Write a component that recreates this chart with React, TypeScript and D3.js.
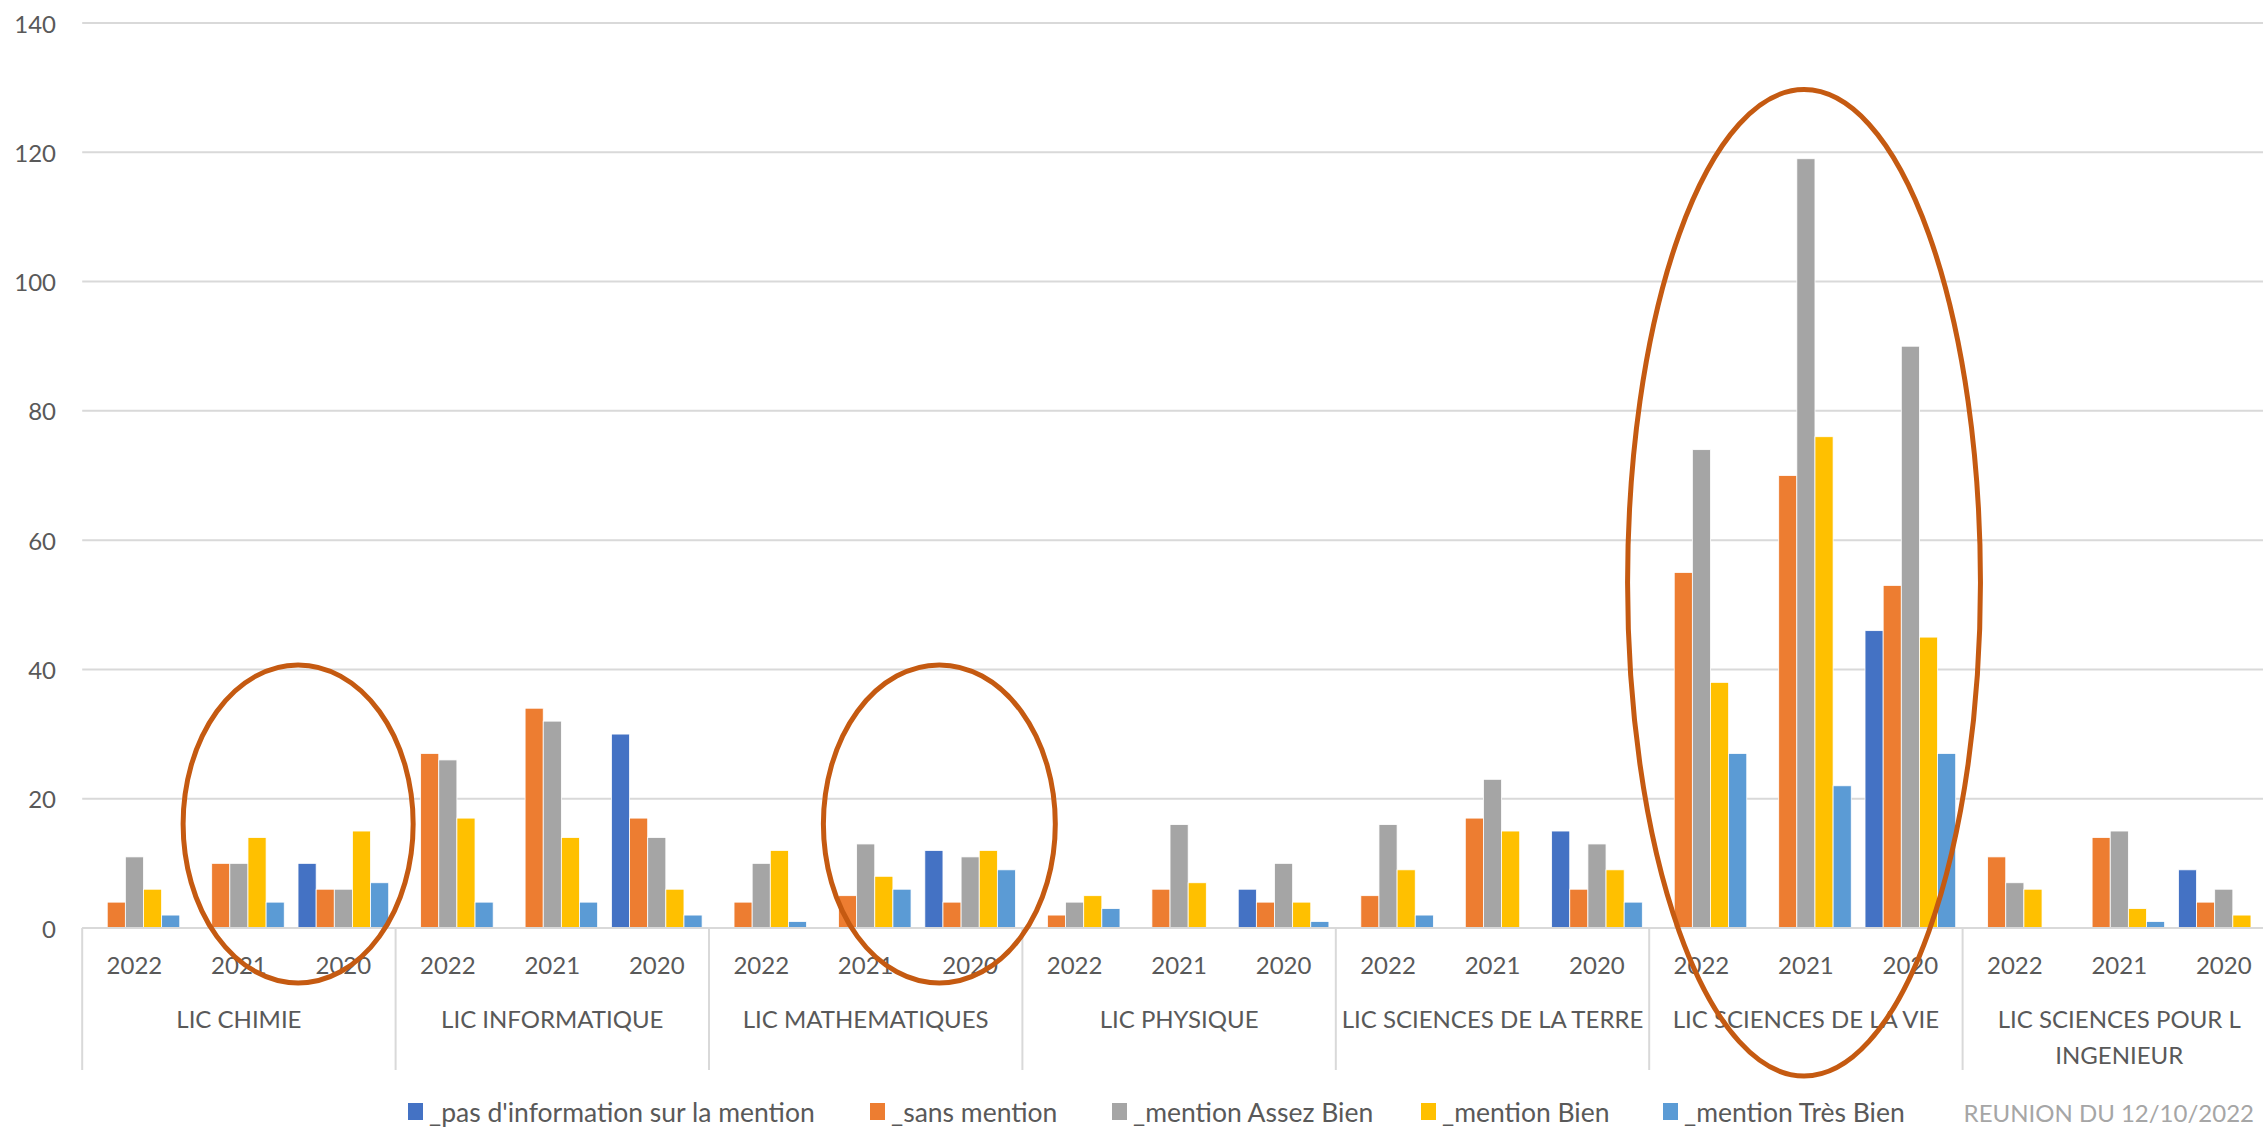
import React from "react";
import * as d3 from "d3";

const categories = [
  "LIC CHIMIE",
  "LIC INFORMATIQUE",
  "LIC MATHEMATIQUES",
  "LIC PHYSIQUE",
  "LIC SCIENCES DE LA TERRE",
  "LIC SCIENCES DE LA VIE",
  "LIC SCIENCES POUR L INGENIEUR",
];
const categoryLines = [
  ["LIC CHIMIE"],
  ["LIC INFORMATIQUE"],
  ["LIC MATHEMATIQUES"],
  ["LIC PHYSIQUE"],
  ["LIC SCIENCES DE LA TERRE"],
  ["LIC SCIENCES DE LA VIE"],
  ["LIC SCIENCES POUR L", "INGENIEUR"],
];
const years = ["2022", "2021", "2020"];
const seriesNames = [
  "_pas d'information sur la mention",
  "_sans mention",
  "_mention Assez Bien",
  "_mention Bien",
  "_mention Très Bien",
];
const seriesColors = ["#4472C4", "#ED7D31", "#A5A5A5", "#FFC000", "#5B9BD5"];

// values per category, per year (2022, 2021, 2020)
const pasInfo = [
  [0, 0, 10], [0, 0, 30], [0, 0, 12], [0, 0, 6], [0, 0, 15], [0, 0, 46], [0, 0, 9],
];
const sansMention = [
  [4, 10, 6], [27, 34, 17], [4, 5, 4], [2, 6, 4], [5, 17, 6], [55, 70, 53], [11, 14, 4],
];
const assezBien = [
  [11, 10, 6], [26, 32, 14], [10, 13, 11], [4, 16, 10], [16, 23, 13], [74, 119, 90], [7, 15, 6],
];
const bien = [
  [6, 14, 15], [17, 14, 6], [12, 8, 12], [5, 7, 4], [9, 15, 9], [38, 76, 45], [6, 3, 2],
];
const tresBien = [
  [2, 4, 7], [4, 4, 2], [1, 6, 9], [3, 0, 1], [2, 0, 4], [27, 22, 27], [0, 1, 0],
];
const seriesValues = [pasInfo, sansMention, assezBien, bien, tresBien];
const yTicks = [0, 20, 40, 60, 80, 100, 120, 140];

// highlight ellipses: center in (category units, value), radii in (category units, value)
const highlights = [
  { cx: 0.689, cy: 16.1, rx: 0.367, ry: 24.6 },
  { cx: 2.735, cy: 16.1, rx: 0.37, ry: 24.6 },
  { cx: 5.494, cy: 53.4, rx: 0.563, ry: 76.3 },
];

const W = 2263;
const H = 1127;
const FONT = "Lato, 'Open Sans', sans-serif";

export default function App() {
  const plotLeft = 82.2;
  const groupW = 313.4;
  const plotRight = plotLeft + groupW * categories.length;
  const y = d3.scaleLinear().domain([0, 140]).range([928, 23]);
  const x0 = d3.scaleBand<string>().domain(categories).range([plotLeft, plotRight]).padding(0);
  const x1 = d3.scaleBand<string>().domain(years).range([0, x0.bandwidth()]).padding(0);
  const x2 = d3
    .scaleBand<string>()
    .domain(seriesNames)
    .range([0, x1.bandwidth()])
    .paddingInner(0)
    .paddingOuter(0.38);
  const groupUnit = d3.scaleLinear().domain([0, categories.length]).range([plotLeft, plotRight]);

  const legendX = [408, 870, 1112, 1421, 1663];

  return (
    <svg
      width={W}
      height={H}
      style={{ position: "absolute", left: 0, top: 0, display: "block", background: "#fff" }}
      fontFamily={FONT}
    >
      <rect x={0} y={0} width={W} height={H} fill="#fff" />
      {/* gridlines */}
      {yTicks.map((t) => (
        <line key={t} x1={plotLeft} x2={plotRight} y1={y(t)} y2={y(t)} stroke="#D9D9D9" strokeWidth={2} />
      ))}
      {yTicks.map((t) => (
        <text key={"l" + t} x={56} y={y(t)} textAnchor="end" dominantBaseline="central" fontSize={24} fill="#595959">
          {t}
        </text>
      ))}
      {/* bars */}
      {categories.map((c, ci) => (
        <g key={c} transform={`translate(${x0(c)},0)`}>
          {years.map((yr, yi) => (
            <g key={yr} transform={`translate(${x1(yr)},0)`}>
              {seriesNames.map((s, si) => {
                const v = seriesValues[si][ci][yi];
                if (!v) return null;
                return (
                  <rect
                    key={s}
                    x={x2(s)}
                    y={y(v)}
                    width={x2.bandwidth()}
                    height={y(0) - y(v)}
                    fill={seriesColors[si]}
                    stroke="#fff"
                    strokeWidth={0.8}
                  />
                );
              })}
            </g>
          ))}
        </g>
      ))}
      {/* category axis */}
      <line x1={plotLeft} x2={plotRight} y1={y(0)} y2={y(0)} stroke="#D9D9D9" strokeWidth={2} />
      {categories.map((c) => (
        <line key={"d" + c} x1={x0(c)} x2={x0(c)} y1={y(0)} y2={1070} stroke="#D9D9D9" strokeWidth={2} />
      ))}
      {categories.map((c) =>
        years.map((yr) => (
          <text
            key={c + yr}
            x={(x0(c) as number) + (x1(yr) as number) + x1.bandwidth() / 2}
            y={964}
            textAnchor="middle"
            dominantBaseline="central"
            fontSize={24}
            fill="#595959"
          >
            {yr}
          </text>
        ))
      )}
      {categories.map((c, ci) =>
        categoryLines[ci].map((ln, li) => (
          <text
            key={c + li}
            x={(x0(c) as number) + x0.bandwidth() / 2}
            y={1018 + li * 36}
            textAnchor="middle"
            dominantBaseline="central"
            fontSize={24}
            fill="#595959"
          >
            {ln}
          </text>
        ))
      )}
      {/* legend */}
      {seriesNames.map((s, si) => (
        <g key={"lg" + s}>
          <rect x={legendX[si]} y={1103} width={15} height={17} fill={seriesColors[si]} />
          <text x={legendX[si] + 21} y={1112} dominantBaseline="central" fontSize={26.5} fill="#595959">
            {s}
          </text>
        </g>
      ))}
      <text x={2254} y={1112} textAnchor="end" dominantBaseline="central" fontSize={24} fill="#A6A6A6">
        REUNION DU 12/10/2022
      </text>
      {/* highlight ellipses */}
      {highlights.map((h, i) => (
        <ellipse
          key={"e" + i}
          cx={groupUnit(h.cx)}
          cy={y(h.cy)}
          rx={groupUnit(h.rx) - groupUnit(0)}
          ry={y(0) - y(h.ry)}
          fill="none"
          stroke="#C55A11"
          strokeWidth={5}
        />
      ))}
    </svg>
  );
}
